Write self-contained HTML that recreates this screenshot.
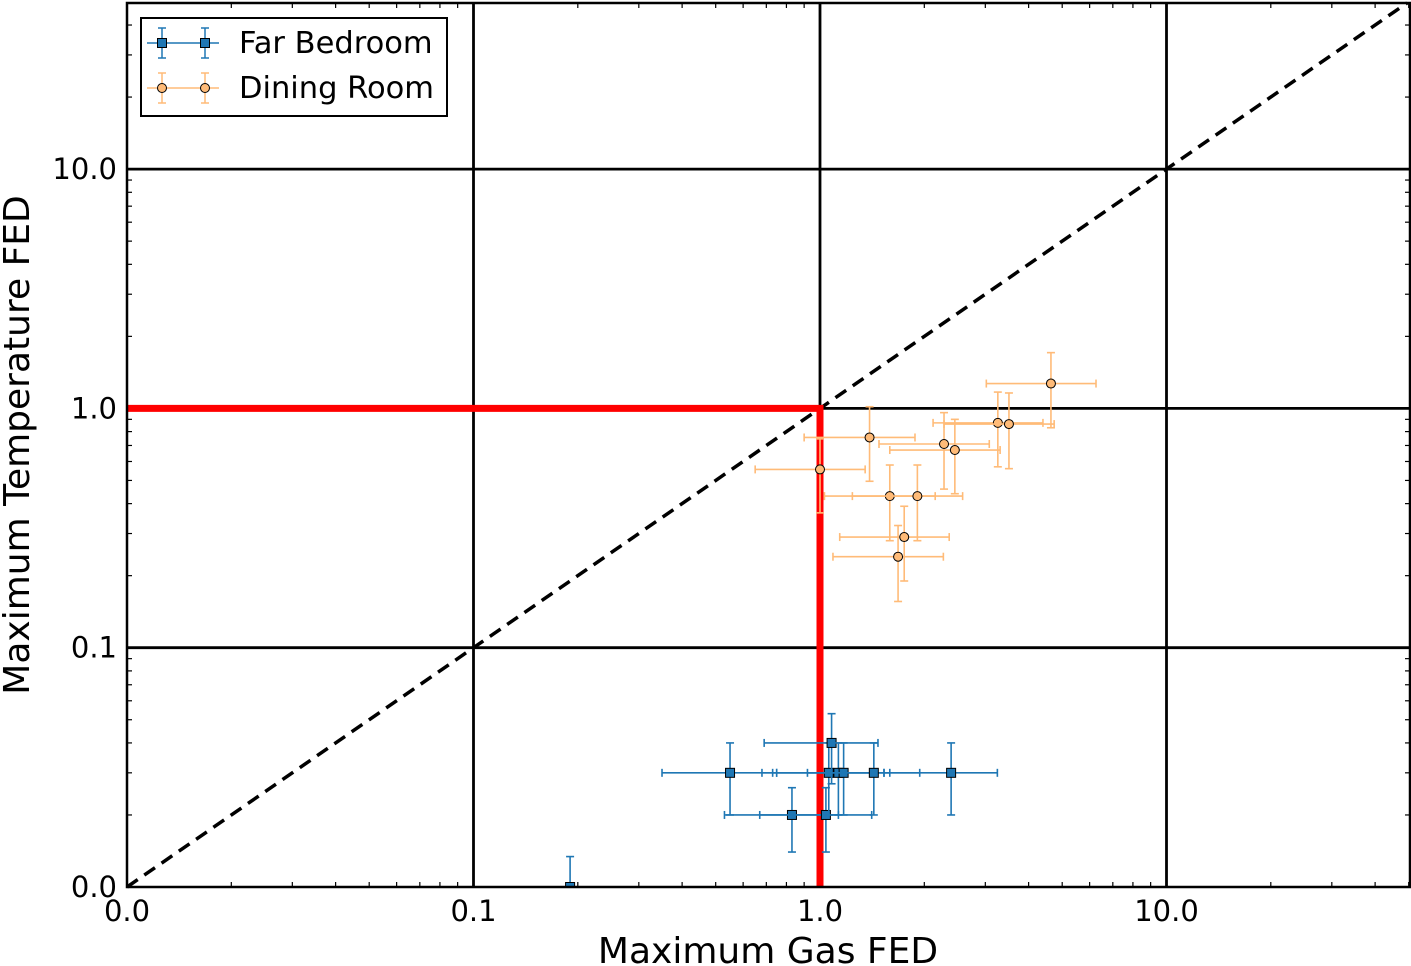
<!DOCTYPE html>
<html><head><meta charset="utf-8"><style>
html,body{margin:0;padding:0;background:#fff;width:1411px;height:966px;overflow:hidden}
svg{display:block;font-family:"DejaVu Sans","Liberation Sans",sans-serif}
</style></head><body>
<svg id="chart" width="1411" height="966" viewBox="0 0 1411 966" xmlns="http://www.w3.org/2000/svg"></svg>
<script>
const xTicks=[0.01,0.1,1,10];
const xTickLabels=["0.0","0.1","1.0","10.0"];
const yTicks=[0.01,0.1,1,10];
const yTickLabels=["0.0","0.1","1.0","10.0"];
const bedX=[0.19,0.55,0.83,1.04,1.06,1.08,1.13,1.17,1.43,2.39];
const bedY=[0.01,0.03,0.02,0.02,0.03,0.04,0.03,0.03,0.03,0.03];
const bedXErr=[0.0,0.2,0.3,0.37,0.38,0.39,0.4,0.42,0.51,0.86];
const bedYErr=[0.0034,0.01,0.006,0.006,0.01,0.013,0.01,0.01,0.01,0.01];
const dinX=[1.0,1.39,1.59,1.91,1.75,1.68,2.28,2.45,3.26,3.51,4.64];
const dinY=[0.556,0.756,0.43,0.43,0.29,0.24,0.71,0.67,0.87,0.86,1.27];
const dinXErr=[0.35,0.49,0.56,0.67,0.61,0.59,0.8,0.86,1.14,1.23,1.62];
const dinYErr=[0.19,0.26,0.15,0.15,0.1,0.084,0.25,0.23,0.3,0.3,0.44];

const L=127,R=1410,T=3,B=887;
const X0=127,XD=346.5,Y0=887,YD=239.3;
const xs=v=>X0+(Math.log10(v)+2)*XD;
const ys=v=>Y0-(Math.log10(v)+2)*YD;
const svg=document.getElementById('chart');
const NS="http://www.w3.org/2000/svg";
function mk(tag,attrs,parent){const e=document.createElementNS(NS,tag);for(const k in attrs)e.setAttribute(k,attrs[k]);(parent||svg).appendChild(e);return e;}

const defs=mk('defs',{});
const cp=mk('clipPath',{id:'plotclip'},defs);
mk('rect',{x:L,y:T,width:R-L,height:B-T},cp);

xTicks.forEach(t=>{const x=xs(t);if(x>L+1){const g=mk('line',{x1:x,x2:x,y1:T,y2:B,stroke:'#000','stroke-width':2.8});

}});
yTicks.forEach(t=>{const y=ys(t);if(y<B-1){const g=mk('line',{x1:L,x2:R,y1:y,y2:y,stroke:'#000','stroke-width':2.8});

}});
for(let d=-2;d<2;d++)for(let m=2;m<10;m++){
 const v=m*Math.pow(10,d);
 const x=xs(v); if(x<R){mk('line',{x1:x,x2:x,y1:B,y2:B-5,stroke:'#000','stroke-width':1.2});mk('line',{x1:x,x2:x,y1:T,y2:T+5,stroke:'#000','stroke-width':1.2});}
 const y=ys(v); if(y>T){mk('line',{x1:L,x2:L+5,y1:y,y2:y,stroke:'#000','stroke-width':1.2});mk('line',{x1:R,x2:R-5,y1:y,y2:y,stroke:'#000','stroke-width':1.2});}
}
const diag=mk('line',{x1:xs(0.01),y1:ys(0.01),x2:xs(49.5),y2:ys(49.5),stroke:'#000','stroke-width':3.5,'stroke-dasharray':'13,8'});


const rh=mk('line',{x1:L,x2:xs(1)+3.5,y1:ys(1),y2:ys(1),stroke:'#ff0000','stroke-width':7});


const rv=mk('line',{x1:xs(1),x2:xs(1),y1:ys(1),y2:B,stroke:'#ff0000','stroke-width':7});



function series(X,Y,XE,YE,color,marker,name){
 const g=mk('g',{'clip-path':'url(#plotclip)'});
 
 
 X.forEach((x,i)=>{
  const cx=xs(x),cy=ys(Y[i]);
  const ec=color, w=1.6;
  if(XE[i]>0){const x1=xs(Math.max(x-XE[i],0.001)),x2=xs(x+XE[i]);
   mk('line',{x1:x1,x2:x2,y1:cy,y2:cy,stroke:ec,'stroke-width':w},g);
   mk('line',{x1:x1,x2:x1,y1:cy-4,y2:cy+4,stroke:ec,'stroke-width':w},g);
   mk('line',{x1:x2,x2:x2,y1:cy-4,y2:cy+4,stroke:ec,'stroke-width':w},g);}
  if(YE[i]>0){const y1=ys(Math.max(Y[i]-YE[i],0.001)),y2=ys(Y[i]+YE[i]);
   mk('line',{x1:cx,x2:cx,y1:y1,y2:y2,stroke:ec,'stroke-width':w},g);
   mk('line',{x1:cx-4,x2:cx+4,y1:y1,y2:y1,stroke:ec,'stroke-width':w},g);
   mk('line',{x1:cx-4,x2:cx+4,y1:y2,y2:y2,stroke:ec,'stroke-width':w},g);}
  let m;
  if(marker==='s') m=mk('rect',{x:cx-4.5,y:cy-4.5,width:9,height:9,fill:color,stroke:'#000','stroke-width':1},g);
  else m=mk('circle',{cx:cx,cy:cy,r:4.5,fill:color,stroke:'#000','stroke-width':1},g);
  
  
 });
}
series(bedX,bedY,bedXErr,bedYErr,'#1f77b4','s','far-bedroom');
series(dinX,dinY,dinXErr,dinYErr,'#ffbb78','o','dining-room');

const fr=mk('rect',{x:L,y:T,width:R-L,height:B-T,fill:'none',stroke:'#000','stroke-width':2.5});


xTicks.forEach((t,i)=>{const e=mk('text',{x:xs(t),y:921,'font-size':29,'text-anchor':'middle',fill:'#000'});e.textContent=xTickLabels[i];

});
yTicks.forEach((t,i)=>{const e=mk('text',{x:117,y:ys(t)+10,'font-size':29,'text-anchor':'end',fill:'#000'});e.textContent=yTickLabels[i];

});
const xt=mk('text',{x:768,y:963,'font-size':36,'text-anchor':'middle'});xt.textContent='Maximum Gas FED';


const yt=mk('text',{x:0,y:0,'font-size':36,'text-anchor':'middle',transform:'translate(29,445) rotate(-90)'});yt.textContent='Maximum Temperature FED';



const lg=mk('g',{});


mk('rect',{x:141,y:18,width:306,height:98,fill:'#fff',stroke:'#000','stroke-width':2},lg);
function legEntry(y,color,marker,label,nm){
 const g=mk('g',{},lg);
 
 
 mk('line',{x1:147,x2:219,y1:y,y2:y,stroke:color,'stroke-width':1.5},g);
 [162,205].forEach(cx=>{
  mk('line',{x1:cx,x2:cx,y1:y-15,y2:y+15,stroke:color,'stroke-width':1.5},g);
  mk('line',{x1:cx-4,x2:cx+4,y1:y-15,y2:y-15,stroke:color,'stroke-width':1.5},g);
  mk('line',{x1:cx-4,x2:cx+4,y1:y+15,y2:y+15,stroke:color,'stroke-width':1.5},g);
  if(marker==='s') mk('rect',{x:cx-4.5,y:y-4.5,width:9,height:9,fill:color,stroke:'#000','stroke-width':1},g);
  else mk('circle',{cx:cx,cy:y,r:4.5,fill:color,stroke:'#000','stroke-width':1},g);
 });
 const t=mk('text',{x:239,y:y+10,'font-size':30.5},g);t.textContent=label;
}
legEntry(43,'#1f77b4','s','Far Bedroom','legend-entry-far-bedroom');
legEntry(88,'#ffbb78','o','Dining Room','legend-entry-dining-room');
</script>
</body></html>
